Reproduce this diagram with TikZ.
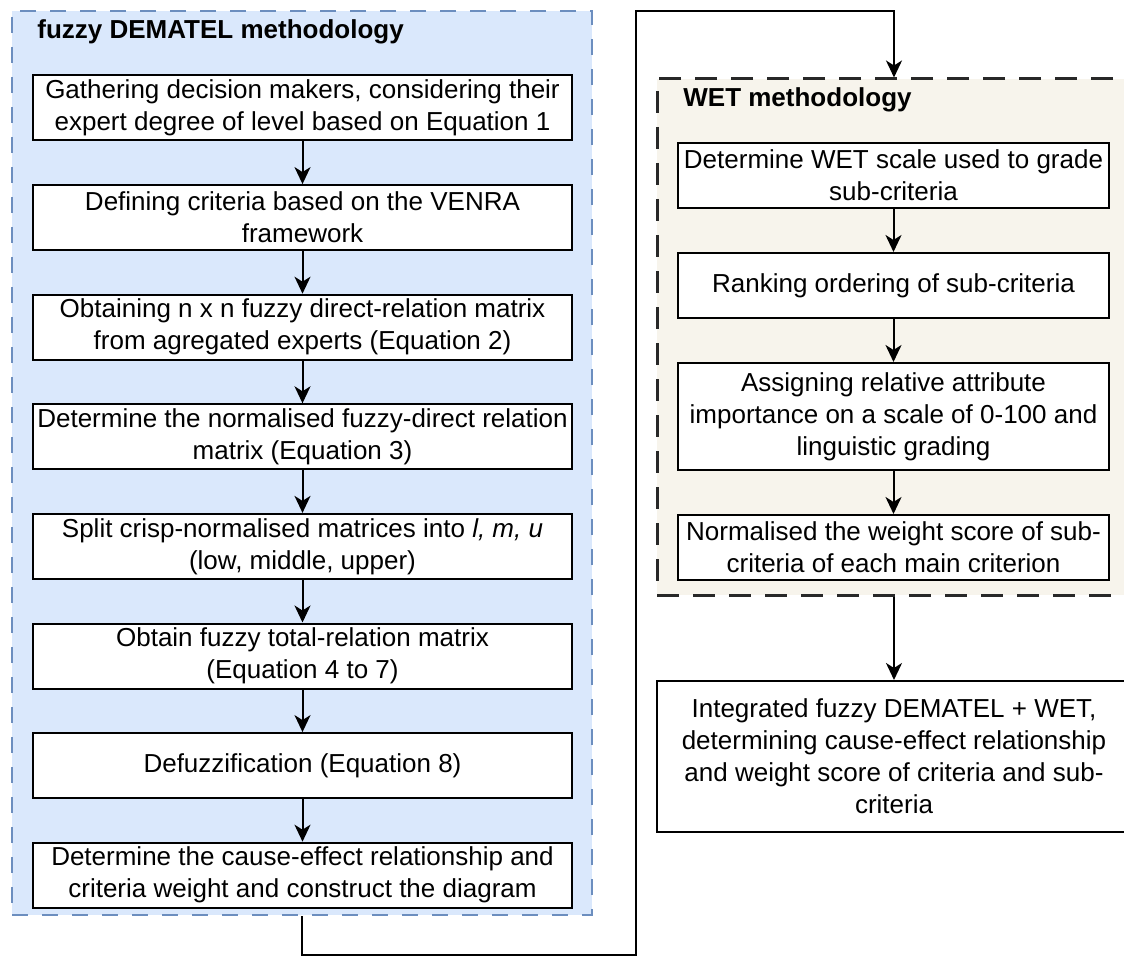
\documentclass[tikz,border=0pt]{standalone}
\usepackage{fontspec}
\setmainfont{Liberation Sans}
\definecolor{dem_fill}{RGB}{218, 232, 252}
\definecolor{dem_line}{RGB}{108, 142, 191}
\definecolor{wet_fill}{RGB}{247, 244, 236}
\definecolor{wet_line}{RGB}{40, 40, 40}
\usetikzlibrary{arrows.meta, positioning}

\begin{document}
\begin{tikzpicture}[
    x=0.5pt, y=-0.5pt,
    node distance=21.3pt,
    font=\fontsize{13}{16}\selectfont,
    box/.style={draw=black, fill=white, line width=1pt,
                minimum width=269.5pt, minimum height=32.5pt,
                inner sep=1.5pt, align=center},
    wbox/.style={box, minimum width=215.5pt},
    demgrp/.style={draw=dem_line, fill=dem_fill, line width=1pt,
                   dash pattern=on 8pt off 7pt, inner sep=0pt,
                   minimum width=290pt, minimum height=452pt},
    wetgrp/.style={draw=wet_line, fill=wet_fill, line width=1.5pt,
                   dash pattern=on 11pt off 7pt, inner sep=0pt,
                   minimum width=237pt, minimum height=258pt},
    ttl/.style={font=\fontsize{13}{16}\selectfont\bfseries,
                anchor=base west, inner sep=0pt},
    arr/.style={-{Stealth[length=8.5pt, width=8pt, inset=2.5pt]}, line width=1pt},
  ]
    \useasboundingbox (0,0) rectangle (1124,957);

    \node[demgrp] (dem) at (302,463) {};
    \node[ttl] (demttl) at (37,39) {fuzzy DEMATEL methodology};
    \node[box] (d1) at (302.5,108)
      {Gathering decision makers, considering their\\expert degree of level based on Equation 1};
    \node[box, below=of d1] (d2)
      {Defining criteria based on the VENRA\\framework};
    \node[box, below=of d2] (d3)
      {Obtaining n x n fuzzy direct-relation matrix\\from agregated experts (Equation 2)};
    \node[box, below=of d3] (d4)
      {Determine the normalised fuzzy-direct relation\\matrix (Equation 3)};
    \node[box, below=of d4] (d5)
      {Split crisp-normalised matrices into \textit{l, m, u}\\(low, middle, upper)};
    \node[box, below=of d5] (d6)
      {Obtain fuzzy total-relation matrix\\(Equation 4 to 7)};
    \node[box, below=of d6] (d7)
      {Defuzzification (Equation 8)};
    \node[box, below=of d7] (d8)
      {Determine the cause-effect relationship and\\criteria weight and construct the diagram};

    \node[wetgrp] (wet) at (894,337) {};
    \node[ttl] (wetttl) at (683,107) {WET methodology};
    \node[wbox] (w1) at (893.5,175.5)
      {Determine WET scale used to grade\\sub-criteria};
    \node[wbox, below=21.5pt of w1] (w2)
      {Ranking ordering of sub-criteria};
    \node[wbox, below=21.5pt of w2, minimum height=53.5pt] (w3)
      {Assigning relative attribute\\importance on a scale of 0-100 and\\linguistic grading};
    \node[wbox, below=21.5pt of w3] (w4)
      {Normalised the weight score of sub-\\criteria of each main criterion};

    \node[box, minimum width=237pt, minimum height=75.5pt] (fin) at (894,756.5)
      {Integrated fuzzy DEMATEL + WET,\\determining cause-effect relationship\\and weight score of criteria and sub-\\criteria};

    \foreach \a/\b in {d1/d2, d2/d3, d3/d4, d4/d5, d5/d6, d6/d7, d7/d8}
      \draw[arr] (\a) -- (\b);
    \foreach \a/\b in {w1/w2, w2/w3, w3/w4}
      \draw[arr] (\a) -- (\b);
    \draw[arr] (wet.south) -- (fin.north);

    \coordinate (lowturn) at (636,955);
    \coordinate (topturn) at (636,11);
    \draw[arr] (dem.south) |- (lowturn) -- (topturn) -| (wet.north);
\end{tikzpicture}
\end{document}
